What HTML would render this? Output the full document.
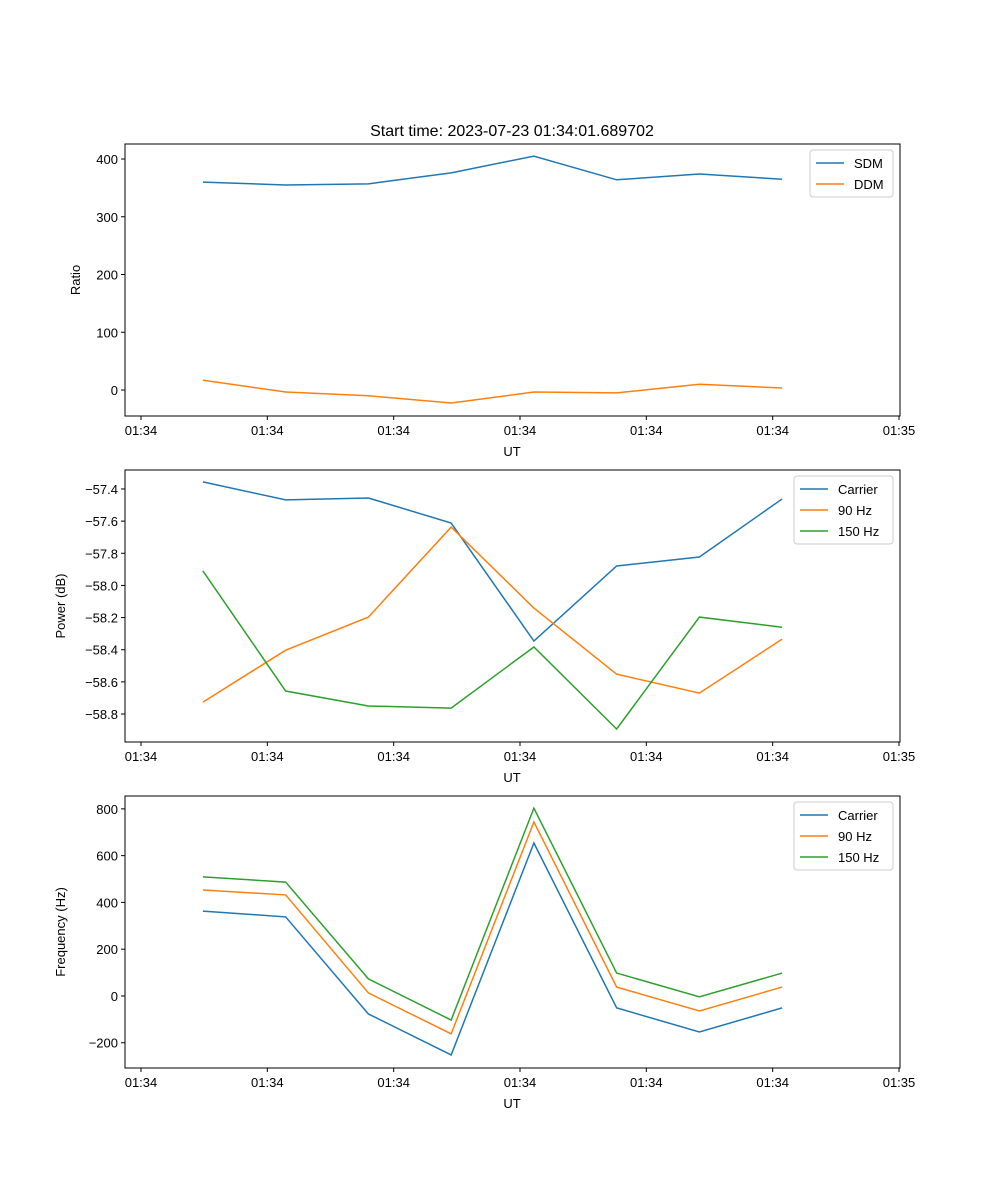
<!DOCTYPE html>
<html><head><meta charset="utf-8"><style>
body{margin:0;background:#fff;}
svg{display:block;font-family:"Liberation Sans","DejaVu Sans",sans-serif;}
</style></head><body>
<svg id="fig" width="1000" height="1200">
<text x="512" y="136" font-size="16" text-anchor="middle">Start time: 2023-07-23 01:34:01.689702</text>
</svg>
<script>
const times=[0.49,1.145,1.80,2.455,3.11,3.765,4.42,5.075];
const xTickVals=[0,1,2,3,4,5,6];
const xTickLabels=["01:34","01:34","01:34","01:34","01:34","01:34","01:35"];
const sdm=[360,355,357,376,405,364,374,365];
const ddm=[17,-3.5,-10,-22.5,-3.5,-5,10,3.5];
const pCarrier=[-57.356,-57.468,-57.456,-57.612,-58.346,-57.879,-57.823,-57.462];
const p90=[-58.726,-58.403,-58.197,-57.637,-58.141,-58.552,-58.670,-58.334];
const p150=[-57.91,-58.657,-58.75,-58.763,-58.383,-58.893,-58.197,-58.26];
const fCarrier=[363,338,-77,-252,654,-51,-154,-51];
const f90=[453,432,13,-162,744,38,-64,38];
const f150=[509,487,73,-103,803,98,-4,98];
const ticks1=[0,100,200,300,400];
const ticks2=[-58.8,-58.6,-58.4,-58.2,-58.0,-57.8,-57.6,-57.4];
const ticks3=[-200,0,200,400,600,800];
const C=["#1f77b4","#ff7f0e","#2ca02c"];
const NS="http://www.w3.org/2000/svg";
const svg=document.getElementById('fig');
function mk(tag,attrs,parent,text){const e=document.createElementNS(NS,tag);for(const k in attrs)e.setAttribute(k,attrs[k]);if(text!==undefined)e.textContent=text;(parent||svg).appendChild(e);return e;}
const L=125,R=900;
const xs=v=>141+(899-141)*v/6;
function panel(key,top,ymin,ymax,ticks,fmt,ylabel,series,names,legW){
  const bot=top+272;
  const ys=v=>bot-(v-ymin)/(ymax-ymin)*(bot-top);
  const g=mk('g',{});
  
  
  ticks.forEach(t=>{const y=ys(t);
    const l=mk('line',{x1:L-4,x2:L,y1:y,y2:y,stroke:'#000'},g);
    const tx=mk('text',{x:L-7,y:y+5,'font-size':13,'text-anchor':'end'},g,fmt(t));
    
    });
  xTickVals.forEach((t,i)=>{const x=xs(t);
    mk('line',{x1:x,x2:x,y1:bot,y2:bot+4,stroke:'#000'},g);
    const tx=mk('text',{x:x,y:bot+19,'font-size':13,'text-anchor':'middle'},g,xTickLabels[i]);
    
    });
  const xl=mk('text',{x:512,y:bot+40,'font-size':13,'text-anchor':'middle'},g,'UT');
  
  
  const cy=(top+bot)/2;
  const yl=mk('text',{x:0,y:0,'font-size':13,'text-anchor':'middle',transform:`translate(${key==='ratio'?80:65},${cy}) rotate(-90)`},g,ylabel);
  
  
  series.forEach((s,i)=>{
    const p=mk('polyline',{points:s.map((v,j)=>xs(times[j])+','+ys(v)).join(' '),fill:'none',stroke:C[i],'stroke-width':1.5},g);
    
    });
  mk('rect',{x:L,y:top,width:R-L,height:272,fill:'none',stroke:'#000','stroke-width':1},g);
  const lx=R-7-legW, ly=top+6;
  const lg=mk('g',{},g);
  
  
  mk('rect',{x:lx,y:ly,width:legW,height:names.length*21+5,fill:'#fff',stroke:'#ccc',rx:3},lg);
  names.forEach((n,i)=>{const y=ly+13+i*21;
    mk('line',{x1:lx+6,x2:lx+34,y1:y,y2:y,stroke:C[i],'stroke-width':1.5},lg);
    const t=mk('text',{x:lx+44,y:y+5,'font-size':13},lg,n);
    
    });
}
panel('ratio',144,-45,426,ticks1,t=>String(t).replace('-','−'),'Ratio',[sdm,ddm],['SDM','DDM'],83);
panel('power',470,-58.974,-57.282,ticks2,t=>t.toFixed(1).replace('-','−'),'Power (dB)',[pCarrier,p90,p150],['Carrier','90 Hz','150 Hz'],99);
panel('frequency',796,-308,855,ticks3,t=>String(t).replace('-','−'),'Frequency (Hz)',[fCarrier,f90,f150],['Carrier','90 Hz','150 Hz'],99);
</script>
</body></html>
